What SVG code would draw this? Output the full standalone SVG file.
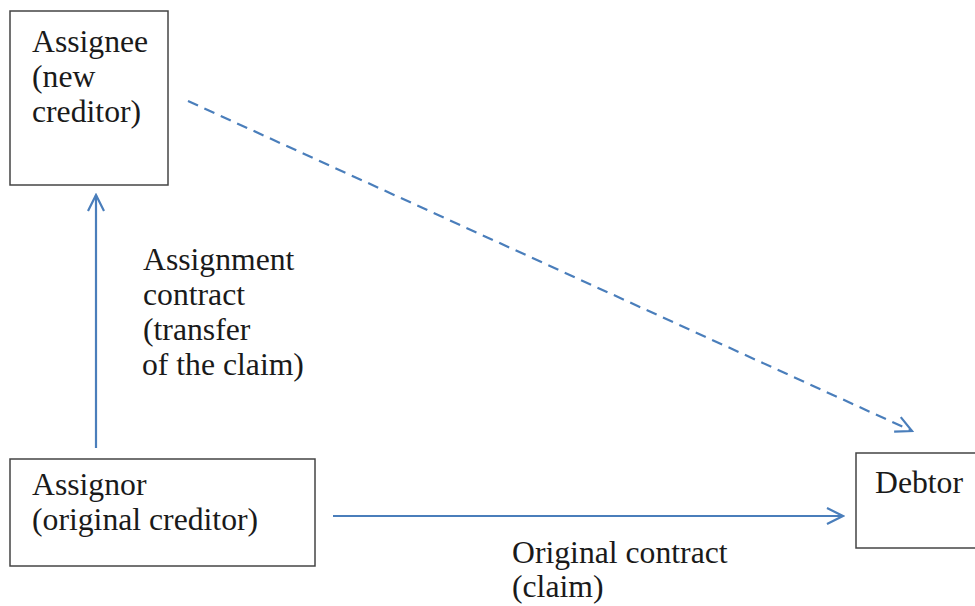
<svg xmlns="http://www.w3.org/2000/svg" width="975" height="606" viewBox="0 0 975 606">
<style>
.box{fill:#fff;stroke:#444;stroke-width:1.5}
.t{font-family:"Liberation Serif","Times New Roman",serif;font-size:31.7px;fill:#1a1a1a}
.c{fill:none;stroke:#4a7ebb;stroke-width:2.2}
.d{stroke-dasharray:11 7}
</style>
<defs>
<marker id="ah" viewBox="0 0 20 20" refX="18" refY="10" markerWidth="20" markerHeight="20" markerUnits="userSpaceOnUse" orient="auto">
<path d="M2,2 L18,10 L2,18" fill="none" stroke="#4a7ebb" stroke-width="2.2"/>
</marker>
</defs>
<rect width="975" height="606" fill="#fff"/>
<g id="assignee">
<rect class="box" x="10" y="11" width="158" height="174"/>
<text class="t" x="32" y="52">Assignee</text>
<text class="t" x="32" y="87">(new</text>
<text class="t" x="32" y="122">creditor)</text>
</g>
<g id="assignor">
<rect class="box" x="10" y="459" width="305" height="107"/>
<text class="t" x="32" y="495">Assignor</text>
<text class="t" x="32" y="530">(original creditor)</text>
</g>
<g id="debtor">
<rect class="box" x="856" y="453" width="125" height="95"/>
<text class="t" x="875" y="493">Debtor</text>
</g>
<g id="connectors">
<line class="c" x1="96" y1="448" x2="96" y2="195" marker-end="url(#ah)"/>
<line class="c d" x1="188" y1="101" x2="912" y2="431" marker-end="url(#ah)"/>
<line class="c" x1="333" y1="516" x2="843" y2="516" marker-end="url(#ah)"/>
</g>
<g id="labels">
<text class="t" x="143" y="270">Assignment</text>
<text class="t" x="143" y="305">contract</text>
<text class="t" x="143" y="340">(transfer</text>
<text class="t" x="142" y="375">of the claim)</text>
<text class="t" x="512" y="563">Original contract</text>
<text class="t" x="512" y="597">(claim)</text>
</g>
</svg>
